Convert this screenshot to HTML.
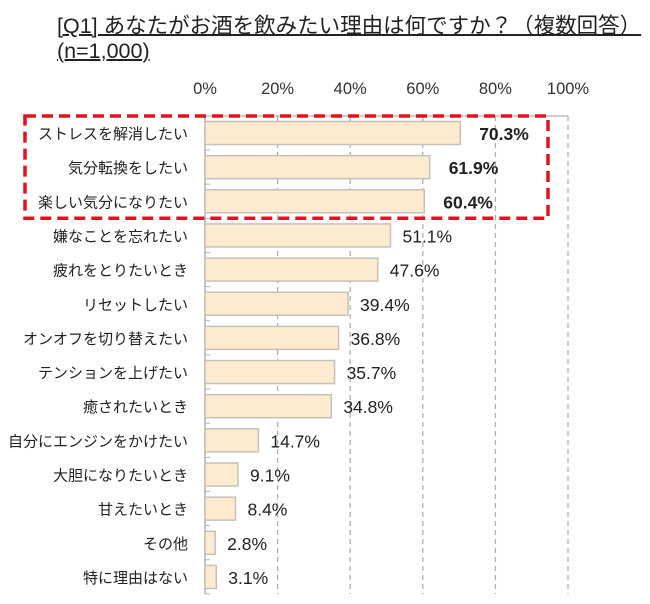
<!DOCTYPE html>
<html><head><meta charset="utf-8">
<style>
body{margin:0;background:#fff;width:650px;height:604px;overflow:hidden;font-family:"Liberation Sans","Noto Sans CJK JP",sans-serif;}
.t{position:absolute;left:57px;font-size:21.5px;color:#222;text-decoration:underline;text-decoration-thickness:1.5px;white-space:nowrap}
</style></head><body>
<div class="t" style="top:9px;">[Q1] あなたがお酒を飲みたい理由は何ですか？（複数回答）</div>
<div class="t" style="top:39px;">(n=1,000)</div>
<svg id="c" width="650" height="604" style="position:absolute;left:0;top:0"></svg>
<script>
const categories=["ストレスを解消したい","気分転換をしたい","楽しい気分になりたい","嫌なことを忘れたい","疲れをとりたいとき","リセットしたい","オンオフを切り替えたい","テンションを上げたい","癒されたいとき","自分にエンジンをかけたい","大胆になりたいとき","甘えたいとき","その他","特に理由はない"];
const values=[70.3,61.9,60.4,51.1,47.6,39.4,36.8,35.7,34.8,14.7,9.1,8.4,2.8,3.1];
const ticks=[0,20,40,60,80,100];
const highlighted=[0,1,2];
const NS="http://www.w3.org/2000/svg",svg=document.getElementById('c');
const x=v=>205+v*3.63, rowY=i=>133+i*34.15;
function mk(t,a,p){const e=document.createElementNS(NS,t);for(const k in a)e.setAttribute(k,a[k]);(p||svg).appendChild(e);return e;}
ticks.forEach(t=>{
 if(t>0){const g=mk('line',{x1:x(t),x2:x(t),y1:116,y2:594,stroke:'#b0b0b0','stroke-width':1.3,'stroke-dasharray':'5,4'});
 
 }
 const l=mk('text',{x:x(t),y:94,'text-anchor':'middle','font-size':16.5,fill:'#333'});l.textContent=t+'%';
 
 
});
const topLine=mk('line',{x1:205,x2:568,y1:116,y2:116,stroke:'#b0b0b0','stroke-width':1.3});


const ax=mk('line',{x1:205,x2:205,y1:116,y2:594,stroke:'#b0b0b0','stroke-width':1.5});


categories.forEach((c,i)=>{
 const y=rowY(i);
 mk('line',{x1:205,x2:210,y1:y+17,y2:y+17,stroke:'#b0b0b0'});
 const b=mk('rect',{x:205,y:y-11.5,width:x(values[i])-205,height:23,fill:'#fdebd0',stroke:'#c8c0b8','stroke-width':1.5});
 
 
 const l=mk('text',{x:188,y:y+6,'text-anchor':'end','font-size':15,fill:'#222'});l.textContent=c;
 
 
 const hi=highlighted.includes(i);
 const v=mk('text',{x:x(values[i])+(hi?19:12),y:y+7,'font-size':17.5,fill:'#222','font-weight':hi?'bold':'normal'});v.textContent=values[i].toFixed(1)+'%';
 
 
});
const hb=mk('rect',{x:25,y:rowY(0)-17,width:523,height:rowY(2)-rowY(0)+34,fill:'none',stroke:'#e0141e','stroke-width':3.5,'stroke-dasharray':'11,6'});


</script>
</body></html>
